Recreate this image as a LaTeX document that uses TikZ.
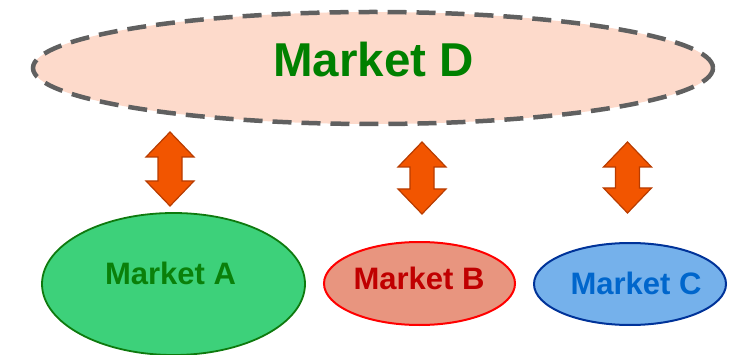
\documentclass[tikz,border=0pt]{standalone}
\usepackage{fontspec}
\setmainfont{Liberation Sans}
\usetikzlibrary{shapes.geometric}
\definecolor{dfill}{HTML}{FDDACB}
\definecolor{dline}{HTML}{606060}
\definecolor{dtext}{HTML}{008000}
\definecolor{afill}{HTML}{3DD17A}
\definecolor{aline}{HTML}{0E7A0E}
\definecolor{atext}{HTML}{0A800A}
\definecolor{bfill}{HTML}{E8957F}
\definecolor{bline}{HTML}{FF0000}
\definecolor{btext}{HTML}{C00000}
\definecolor{cfill}{HTML}{75B1EB}
\definecolor{cline}{HTML}{003399}
\definecolor{ctext}{HTML}{0066CC}
\definecolor{arrfill}{HTML}{F25500}
\definecolor{arrline}{HTML}{B83C00}
\tikzset{
  market/.style={ellipse, inner sep=0pt, font=\bfseries},
  dblarrow/.style={fill=arrfill, draw=arrline, line width=1.2pt, line join=miter},
}
\newcommand{\myvarrow}[3]{% x, top, bottom
  \path[dblarrow] (#1,#2) -- ++(24,25) -- ++(-12,0) |- ({#1+12},{#3-25}) -- ++(12,0)
    -- (#1,#3) -- ({#1-24},{#3-25}) -- ++(12,0) |- ({#1-12},{#2+25}) -- ++(-12,0) -- cycle;}
\begin{document}
\begin{tikzpicture}[x=1pt,y=-1pt]
\useasboundingbox (0,0) rectangle (735,355);
\begin{scope}
\clip (0,0) rectangle (735,355);
\node[market, minimum width=680pt, minimum height=112pt, fill=dfill, draw=dline,
  line width=4.5pt, dash pattern=on 19pt off 10pt] (D) at (373,68) {};
\node[font=\bfseries\fontsize{47.5}{50}\selectfont, text=dtext] (Dt) at (373.5,60) {Market D};
\node[market, minimum width=263pt, minimum height=142pt, fill=afill, draw=aline,
  line width=1.8pt] (A) at (173.5,284) {};
\node[font=\bfseries\fontsize{31}{34}\selectfont, text=atext] (At) at (170.5,273) {Market A};
\node[market, minimum width=191pt, minimum height=83pt, fill=bfill, draw=bline,
  line width=2pt] (B) at (419.5,283.5) {};
\node[font=\bfseries\fontsize{31}{34}\selectfont, text=btext] (Bt) at (419,278) {Market B};
\node[market, minimum width=192pt, minimum height=82pt, fill=cfill, draw=cline,
  line width=2pt] (C) at (630,284) {};
\node[font=\bfseries\fontsize{31}{34}\selectfont, text=ctext] (Ct) at (636,283) {Market C};
\myvarrow{170}{132}{206}
\myvarrow{422}{142}{214}
\myvarrow{627.5}{142}{213}
\end{scope}
\end{tikzpicture}
\end{document}
